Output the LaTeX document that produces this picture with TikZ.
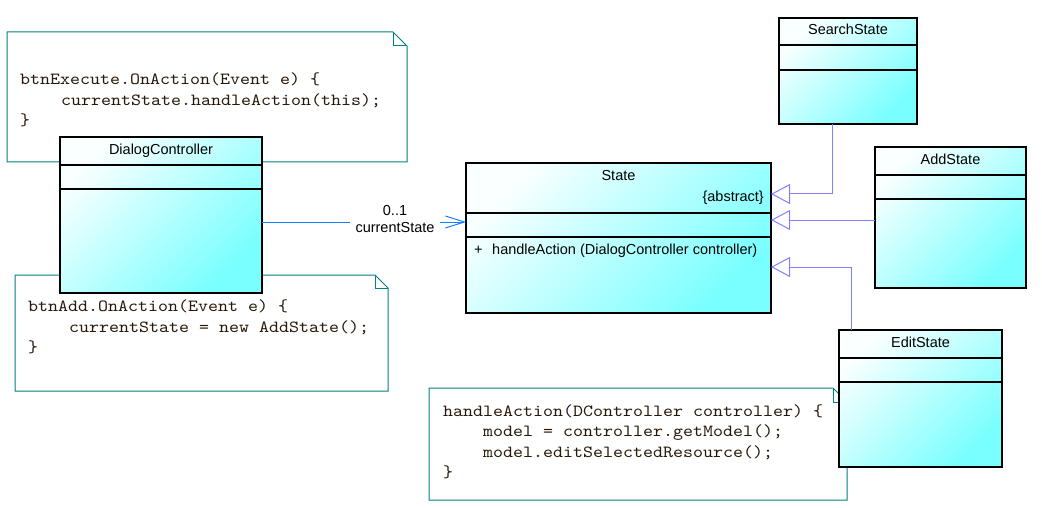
\documentclass[tikz,border=0pt]{standalone}
\usepackage{fontspec}
\setmainfont{Liberation Sans}
\newfontfamily\codefont{lmmono10-regular.otf}[FakeStretch=1.12]
\usetikzlibrary{arrows.meta,calc}
\definecolor{cyanend}{RGB}{120,255,255}
\definecolor{cyanstart}{RGB}{250,255,255}
\definecolor{notecol}{RGB}{0,128,128}
\definecolor{gencol}{RGB}{128,128,255}
\definecolor{assoccol}{RGB}{20,128,255}
\definecolor{codecol}{RGB}{40,25,10}
\begin{document}
\begin{tikzpicture}[x=1pt,y=-1pt,
  classbox/.style={draw=black, line width=1.1pt, top color=cyanstart, bottom color=cyanend, shading angle=45, anchor=north west, inner sep=0pt, outer sep=0pt},
  classline/.style={draw=black, line width=1.1pt},
  classtext/.style={font=\fontsize{14.5}{17}\selectfont, text=black, inner sep=0pt},
  notebox/.style={fill=white, draw=none, anchor=north west, inner sep=0pt, outer sep=0pt},
  noteline/.style={draw=notecol, line width=1pt, line join=miter},
  code/.style={font=\fontsize{17}{20.5}\codefont, text=codecol, anchor=base west, inner sep=0pt},
  gen/.style={draw=gencol, line width=1pt, -{Triangle[open, length=19pt, width=20pt]}},
  assoc/.style={draw=assoccol, line width=1pt, -{Straight Barb[length=19pt, width=12pt]}},
  lbl/.style={classtext, fill=white, inner xsep=6pt, inner ysep=1pt, align=center}
]
\useasboundingbox (0,0) rectangle (1042,508);
\fill[white] (0,0) rectangle (1042,508);

% ---------- notes ----------
\node[notebox, minimum width=400pt, minimum height=130pt] (note1) at (7,32) {};
\draw[noteline] (note1.north west) -- ($(note1.north east)+(-14,0)$) -- ($(note1.north east)+(0,14)$) -- (note1.south east) -- (note1.south west) -- cycle;
\draw[noteline] ($(note1.north east)+(-14,0)$) -- ($(note1.north east)+(-14,14)$) -- ($(note1.north east)+(0,14)$);
\node[code] (n1a) at (20,85) {btnExecute.OnAction(Event e) \{};
\node[code] (n1b) at (61,105.5) {currentState.handleAction(this);};
\node[code] (n1c) at (20,126) {\}};

\node[notebox, minimum width=373pt, minimum height=116pt] (note2) at (15,275) {};
\draw[noteline] (note2.north west) -- ($(note2.north east)+(-13,0)$) -- ($(note2.north east)+(0,13)$) -- (note2.south east) -- (note2.south west) -- cycle;
\draw[noteline] ($(note2.north east)+(-13,0)$) -- ($(note2.north east)+(-13,13)$) -- ($(note2.north east)+(0,13)$);
\node[code] (n2a) at (28,311.5) {btnAdd.OnAction(Event e) \{};
\node[code] (n2b) at (69,332) {currentState = new AddState();};
\node[code] (n2c) at (28,352.5) {\}};

\node[notebox, minimum width=418pt, minimum height=112pt] (note3) at (429,388) {};
\draw[noteline] (note3.north west) -- ($(note3.north east)+(-14,0)$) -- ($(note3.north east)+(0,14)$) -- (note3.south east) -- (note3.south west) -- cycle;
\draw[noteline] ($(note3.north east)+(-14,0)$) -- ($(note3.north east)+(-14,14)$) -- ($(note3.north east)+(0,14)$);
\node[code] (n3a) at (443,416) {handleAction(DController controller) \{};
\node[code] (n3b) at (483,436.5) {model = controller.getModel();};
\node[code] (n3c) at (483,457) {model.editSelectedResource();};
\node[code] (n3d) at (443,477.5) {\}};

% ---------- classes ----------
\node[classbox, minimum width=202pt, minimum height=156pt] (dc) at (60,137) {};
\draw[classline] ($(dc.north west)+(0,28)$) -- ($(dc.north east)+(0,28)$);
\draw[classline] ($(dc.north west)+(0,52)$) -- ($(dc.north east)+(0,52)$);
\node[classtext, anchor=base] (dct) at ($(dc.north)+(0,17.3)$) {DialogController};

\node[classbox, minimum width=305pt, minimum height=150pt] (state) at (466,163) {};
\draw[classline] ($(state.north west)+(0,50)$) -- ($(state.north east)+(0,50)$);
\draw[classline] ($(state.north west)+(0,74)$) -- ($(state.north east)+(0,74)$);
\node[classtext, anchor=base] (stt) at ($(state.north)+(0,17.5)$) {State};
\node[classtext, anchor=base east] (sta) at ($(state.north east)+(-7,38)$) {\{abstract\}};
\node[classtext, anchor=base west] (stp) at ($(state.north west)+(8,91)$) {+};
\node[classtext, anchor=base west] (stm) at ($(state.north west)+(26,91)$) {handleAction (DialogController controller)};

\node[classbox, minimum width=138pt, minimum height=106pt] (search) at (779,18) {};
\draw[classline] ($(search.north west)+(0,27)$) -- ($(search.north east)+(0,27)$);
\draw[classline] ($(search.north west)+(0,52)$) -- ($(search.north east)+(0,52)$);
\node[classtext, anchor=base] (set) at ($(search.north)+(0,17)$) {SearchState};

\node[classbox, minimum width=151pt, minimum height=141pt] (add) at (875,147) {};
\draw[classline] ($(add.north west)+(0,28)$) -- ($(add.north east)+(0,28)$);
\draw[classline] ($(add.north west)+(0,52)$) -- ($(add.north east)+(0,52)$);
\node[classtext, anchor=base] (adt) at ($(add.north)+(0,17.3)$) {AddState};

\node[classbox, minimum width=163pt, minimum height=137pt] (edit) at (839,330) {};
\draw[classline] ($(edit.north west)+(0,28)$) -- ($(edit.north east)+(0,28)$);
\draw[classline] ($(edit.north west)+(0,52)$) -- ($(edit.north east)+(0,52)$);
\node[classtext, anchor=base] (edt) at ($(edit.north)+(0,17.3)$) {EditState};

% ---------- generalizations ----------
\coordinate (t1) at ($(state.north east)+(0,31)$);
\coordinate (t2) at ($(state.north east)+(0,57)$);
\coordinate (t3) at ($(state.north east)+(0,104)$);
\draw[gen] ($(search.south west)+(53,0)$) |- (t1);
\draw[gen] (add.west |- t2) -- (t2);
\draw[gen] ($(edit.north west)+(12,0)$) |- (t3);

% ---------- association ----------
\coordinate (a1) at ($(dc.north east)+(0,85)$);
\draw[assoc] (a1) -- (state.west |- a1);
\node[lbl] (albl) at (395,219.5) {0..1\\currentState};
\end{tikzpicture}
\end{document}
